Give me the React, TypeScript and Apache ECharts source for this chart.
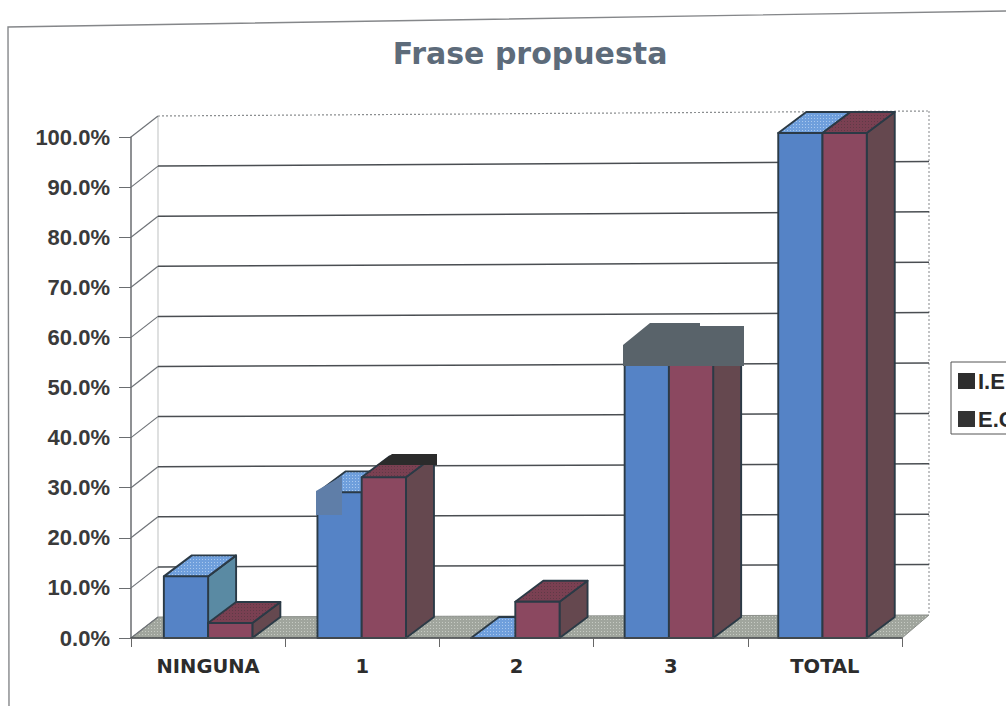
import React, { useEffect, useRef } from "react";
import * as echarts from "echarts";

const categories = ["NINGUNA", "1", "2", "3", "TOTAL"];
const seriesIE = [12.3, 29, 0, 58, 100];
const seriesEC = [3, 32, 7.2, 57.5, 100];
const ticks = [0, 10, 20, 30, 40, 50, 60, 70, 80, 90, 100];

const DEPTH_X = 28;
const DEPTH_Y = -21;
const EDGE = "#2b3a46";
const FONT = "'DejaVu Sans', sans-serif";
const AXIS_FONT = "'Liberation Sans', Arial, sans-serif";

function mesh(base: string, dot: string) {
  const c = document.createElement("canvas");
  c.width = 3;
  c.height = 3;
  const g = c.getContext("2d")!;
  g.fillStyle = base;
  g.fillRect(0, 0, 3, 3);
  g.fillStyle = dot;
  g.fillRect(1, 1, 1, 1);
  return { image: c, repeat: "repeat" };
}

function barRenderer(front: string, top: any, side: string, offset: number) {
  return (params: any, api: any) => {
    const idx = api.value(0);
    const v = api.value(1);
    const [cx0, y0] = api.coord([idx, 0]);
    const [, yv] = api.coord([idx, v]);
    const cx = cx0 - idx * 0.6;
    const w = api.size([1, 0])[0] * 0.287;
    const x0 = cx + (offset < 0 ? -w : 0);
    const x1 = x0 + w;
    const y1 = yv - (idx / 4) * (v / 100) * 4;
    const poly = (points: number[][], fill: any) => ({
      type: "polygon",
      shape: { points },
      style: { fill, stroke: EDGE, lineWidth: 1.9, lineJoin: "round" },
    });
    return {
      type: "group",
      children: [
        poly([[x1, y0], [x1 + DEPTH_X, y0 + DEPTH_Y], [x1 + DEPTH_X, y1 + DEPTH_Y], [x1, y1]], side),
        poly([[x0, y1], [x0 + DEPTH_X, y1 + DEPTH_Y], [x1 + DEPTH_X, y1 + DEPTH_Y], [x1, y1]], top),
        poly([[x0, y0], [x1, y0], [x1, y1], [x0, y1]], front),
      ],
    };
  };
}

function wallRenderer(floorFill: any) {
  return (params: any, api: any) => {
    const v = api.value(1);
    const [, y] = api.coord([0, v]);
    const xs = api.coord([0, 0])[0] - api.size([1, 0])[0] / 2;
    const xe = xs + api.size([1, 0])[0] * categories.length;
    const lift = 2 + (v / 100) * 3;
    const children: any[] = [
      {
        type: "line",
        shape: { x1: xs, y1: y, x2: xs + 27, y2: y + DEPTH_Y },
        style: { stroke: "#6f7378", lineWidth: 1.2 },
      },
    ];
    if (v === 0) {
      const floorY = y + DEPTH_Y;
      children.unshift({
        type: "polygon",
        shape: {
          points: [[xs, y], [xs + 27, floorY], [xe + 27, floorY - lift], [xe, y]],
        },
        style: { fill: floorFill, stroke: "#8b8f8a", lineWidth: 1 },
      });
      const topY = api.coord([0, 100])[1] + DEPTH_Y;
      children.unshift(
        {
          type: "line",
          shape: { x1: xs + 27, y1: topY, x2: xs + 27, y2: floorY },
          style: { stroke: "#c9cbcc", lineWidth: 1.2 },
        },
        {
          type: "line",
          shape: { x1: xe + 27, y1: topY - 5, x2: xe + 27, y2: floorY - lift },
          style: { stroke: "#9a9c9e", lineWidth: 1.2, lineDash: [2, 2] },
        }
      );
    } else {
      children.push({
        type: "line",
        shape: { x1: xs + 27, y1: y + DEPTH_Y, x2: xe + 27, y2: y + DEPTH_Y - lift },
        style:
          v === 100
            ? { stroke: "#8b8e90", lineWidth: 1.2, lineDash: [2, 2] }
            : { stroke: "#4a4e52", lineWidth: 1.5 },
      });
    }
    return { type: "group", children };
  };
}

export default function App() {
  const ref = useRef<HTMLDivElement>(null);
  useEffect(() => {
    const chart = echarts.init(ref.current!, undefined, { renderer: "svg" });
    chart.setOption({
      animation: false,
      backgroundColor: "#ffffff",
      title: {
        text: "Frase propuesta",
        left: 525,
        top: 33,
        textAlign: "center",
        textStyle: { fontFamily: FONT, fontSize: 30, fontWeight: "bold", color: "#5d6b7a" },
      },
      grid: { left: 131, right: 104, top: 137, bottom: 68 },
      legend: {
        orient: "vertical",
        left: 951,
        top: 362,
        padding: [8, 60, 4, 7],
        itemGap: 16,
        itemWidth: 17,
        itemHeight: 16,
        icon: "rect",
        borderColor: "#555",
        borderWidth: 1,
        textStyle: { fontFamily: AXIS_FONT, fontSize: 22, fontWeight: "bold", color: "#2a2a2a", padding: [0, 0, 0, -2] },
        data: [
          { name: "I.E", itemStyle: { color: "#2e2e2e" } },
          { name: "E.C", itemStyle: { color: "#333333" } },
        ],
      },
      xAxis: {
        type: "category",
        data: categories,
        z: 5,
        axisLine: { lineStyle: { color: "#4a4d50", width: 1.5 } },
        axisTick: { show: true, length: 9, lineStyle: { color: "#666" } },
        axisLabel: {
          margin: 18,
          fontFamily: FONT,
          fontSize: 19.5,
          fontWeight: "bold",
          color: "#2c2c2c",
          interval: 0,
        },
      },
      yAxis: {
        type: "value",
        min: 0,
        max: 100,
        interval: 10,
        z: 5,
        splitLine: { show: false },
        axisLine: { show: true, lineStyle: { color: "#6a6d70", width: 1.5 } },
        axisTick: { show: true, length: 12, lineStyle: { color: "#6a6d70" } },
        axisLabel: {
          margin: 21,
          fontFamily: AXIS_FONT,
          fontSize: 22,
          fontWeight: "bold",
          color: "#3a3a3a",
          formatter: (v: number) => v.toFixed(1) + "%",
        },
      },
      series: [
        {
          name: "wall",
          type: "custom",
          z: 1,
          silent: true,
          renderItem: wallRenderer(mesh("#a0a59d", "#c6cac3")),
          encode: { x: 0, y: 1 },
          data: ticks.map((t) => [0, t]),
        },
        {
          name: "I.E",
          type: "custom",
          z: 2,
          renderItem: barRenderer("#5583c6", mesh("#6f9fdc", "#a9c8ee"), "#5a8aa3", -1),
          encode: { x: 0, y: 1 },
          itemStyle: { color: "#2e2e2e" },
          data: seriesIE.map((v, i) => [i, v]),
        },
        {
          name: "E.C",
          type: "custom",
          z: 3,
          renderItem: barRenderer("#8b4860", mesh("#7a4052", "#5e3a46"), "#65484f", 1),
          encode: { x: 0, y: 1 },
          itemStyle: { color: "#333333" },
          data: seriesEC.map((v, i) => [i, v]),
        },
      ],
      graphic: [
        {
          type: "polyline",
          z: 10,
          shape: { points: [[9, 706], [8, 27], [1006, 11]] },
          style: { fill: "none", stroke: "#85878a", lineWidth: 1.4 },
        },
        {
          type: "polygon",
          z: 10,
          shape: { points: [[623, 345], [650, 323], [700, 323], [700, 326], [744, 326], [744, 366], [623, 366]] },
          style: { fill: "#59636a" },
        },
        {
          type: "polygon",
          z: 10,
          shape: { points: [[316, 491], [342, 476], [342, 515], [316, 515]] },
          style: { fill: "#5f7ea8" },
        },
        {
          type: "polygon",
          z: 10,
          shape: { points: [[377, 465], [392, 454], [437, 454], [437, 465]] },
          style: { fill: "#2b2b2b" },
        },
      ],
    });
    return () => chart.dispose();
  }, []);
  return (
    <div
      ref={ref}
      style={{ position: "fixed", left: 0, top: 0, width: 1006, height: 706, overflow: "hidden" }}
    />
  );
}
